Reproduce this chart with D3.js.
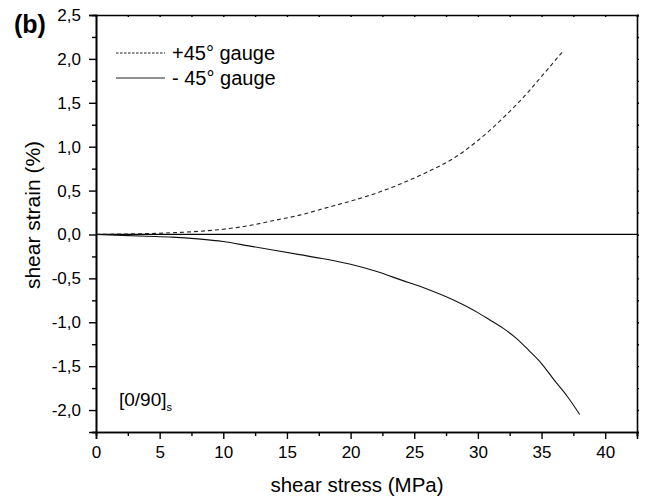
<!DOCTYPE html>
<html>
<head>
<meta charset="utf-8">
<script src="https://cdn.jsdelivr.net/npm/d3@7"></script>
<style>
  body { margin: 0; background: #fff; }
  svg { font-family: "Liberation Sans", Arial, sans-serif; }
</style>
</head>
<body>
<svg id="chart"></svg>
<script>
/// data ///
const plusStress  = [0, 2, 4, 6, 8, 10, 12, 14, 16, 18, 20, 22, 24, 26, 28, 30, 32, 34, 35, 36, 36.7];
const plusStrain  = [0, 0.005, 0.01, 0.02, 0.035, 0.06, 0.1, 0.16, 0.22, 0.3, 0.38, 0.47, 0.58, 0.71, 0.86, 1.07, 1.33, 1.63, 1.8, 1.97, 2.09];
const minusStress = [0, 2, 4, 6, 8, 10, 12, 14, 16, 18, 20, 22, 24, 26, 28, 30, 31, 32, 33, 34, 35, 36, 37, 38];
const minusStrain = [0, -0.01, -0.02, -0.03, -0.05, -0.08, -0.13, -0.18, -0.23, -0.28, -0.34, -0.42, -0.52, -0.62, -0.74, -0.89, -0.98, -1.07, -1.18, -1.32, -1.47, -1.66, -1.84, -2.05];
const xMajor = [0, 5, 10, 15, 20, 25, 30, 35, 40];
const xMinor = [2.5, 7.5, 12.5, 17.5, 22.5, 27.5, 32.5, 37.5, 42.5];
const yMajor = [-2, -1.5, -1, -0.5, 0, 0.5, 1, 1.5, 2, 2.5];
const yMinor = [-2.25, -1.75, -1.25, -0.75, -0.25, 0.25, 0.75, 1.25, 1.75, 2.25];
const legendLabels = ["+45° gauge", "- 45° gauge"];

/// dimensions ///
const width = 645, height = 500;
const margin = {top: 15, right: 8, bottom: 68, left: 96};

const svg = d3.select("#chart").attr("width", width).attr("height", height);

// comma decimals, plain hyphen minus
const locale = d3.formatLocale({decimal: ",", thousands: ".", grouping: [3], currency: ["", ""], minus: "-"});
const fmt = locale.format(".1f");

/// scales ///
const x = d3.scaleLinear().domain([0, 42.5]).range([margin.left, width - margin.right]);
const y = d3.scaleLinear().domain([-2.25, 2.5]).range([height - margin.bottom, margin.top]);

/// axes ///
const styleAxis = g => g
  .call(g => g.select(".domain").attr("stroke", "#000").attr("stroke-width", 1.6))
  .call(g => g.selectAll(".tick line").attr("stroke", "#000").attr("stroke-width", 1.4));

svg.append("g")
  .attr("transform", `translate(0,${y(-2.25)})`)
  .call(d3.axisBottom(x).tickValues(xMinor).tickSize(4).tickFormat(""))
  .call(styleAxis);
svg.append("g")
  .attr("transform", `translate(0,${y(-2.25)})`)
  .call(d3.axisBottom(x).tickValues(xMajor).tickSize(7).tickPadding(7).tickFormat(d3.format("d")))
  .call(styleAxis)
  .call(g => g.selectAll(".tick text").attr("font-size", 17).attr("fill", "#000"));

svg.append("g")
  .attr("transform", `translate(${x(0)},0)`)
  .call(d3.axisLeft(y).tickValues(yMinor).tickSize(4).tickFormat(""))
  .call(styleAxis);
svg.append("g")
  .attr("transform", `translate(${x(0)},0)`)
  .call(d3.axisLeft(y).tickValues(yMajor).tickSize(7).tickPadding(8).tickFormat(fmt))
  .call(styleAxis)
  .call(g => g.selectAll(".tick text").attr("font-size", 17).attr("fill", "#000"));

// top and right frame with tiny ticks
svg.append("g")
  .attr("transform", `translate(0,${y(2.5)})`)
  .call(d3.axisBottom(x).tickValues(xMajor.concat(xMinor)).tickSize(2).tickFormat(""))
  .call(styleAxis);
svg.append("g")
  .attr("transform", `translate(${x(42.5)},0)`)
  .call(d3.axisRight(y).tickValues(yMajor.concat(yMinor)).tickSize(2).tickFormat(""))
  .call(styleAxis);

// zero line
svg.append("line")
  .attr("x1", x(0)).attr("x2", x(42.5))
  .attr("y1", y(0)).attr("y2", y(0))
  .attr("stroke", "#000").attr("stroke-width", 1.2);

/// curves ///
const line = d3.line().x(d => x(d[0])).y(d => y(d[1])).curve(d3.curveMonotoneX);
const plus = plusStress.map((s, i) => [s, plusStrain[i]]);
const minus = minusStress.map((s, i) => [s, minusStrain[i]]);

svg.append("path").datum(plus)
  .attr("d", line).attr("fill", "none")
  .attr("stroke", "#222").attr("stroke-width", 1.1).attr("stroke-dasharray", "4,3");
svg.append("path").datum(minus)
  .attr("d", line).attr("fill", "none")
  .attr("stroke", "#111").attr("stroke-width", 1.1);

/// legend ///
const legend = svg.append("g");
legendLabels.forEach((lab, i) => {
  const ly = 53 + i * 25;
  legend.append("line")
    .attr("x1", 116).attr("x2", 165).attr("y1", ly).attr("y2", ly)
    .attr("stroke", "#222").attr("stroke-width", 1)
    .attr("stroke-dasharray", i === 0 ? "2.5,1.5" : null);
  legend.append("text")
    .attr("x", 172).attr("y", ly + 7)
    .attr("font-size", 20).text(lab);
});

/// labels ///
svg.append("text")
  .attr("x", 14).attr("y", 33)
  .attr("font-size", 25).attr("font-weight", "bold").text("(b)");

const tag = svg.append("text").attr("x", 119).attr("y", 406).attr("font-size", 19);
tag.append("tspan").text("[0/90]");
tag.append("tspan").attr("font-size", 11).attr("dy", 5).text("s");

svg.append("text")
  .attr("x", 357).attr("y", 492)
  .attr("text-anchor", "middle").attr("font-size", 20.5)
  .text("shear stress (MPa)");

svg.append("text")
  .attr("transform", "translate(40,215) rotate(-90)")
  .attr("text-anchor", "middle").attr("font-size", 21)
  .text("shear strain (%)");
</script>
</body>
</html>
